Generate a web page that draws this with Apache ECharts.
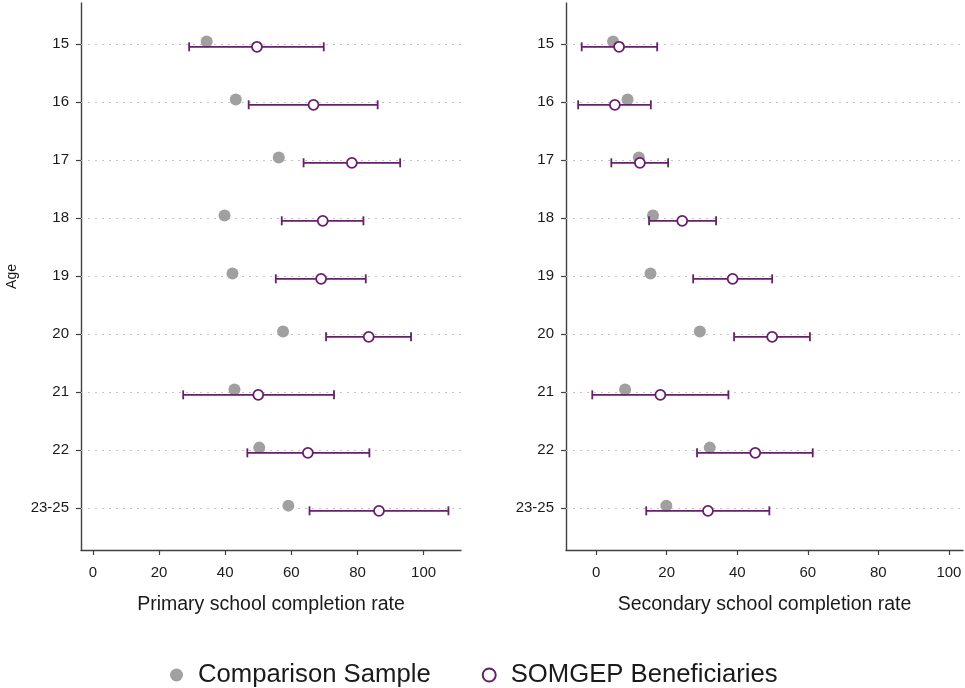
<!DOCTYPE html>
<html>
<head>
<meta charset="utf-8">
<script src="https://cdn.jsdelivr.net/npm/echarts@6/dist/echarts.min.js"></script>
<style>
html,body{margin:0;padding:0;background:#fff;}
#chart{width:965px;height:688px;}
</style>
</head>
<body>
<div id="chart"></div>
<script>
// ---- Data ----
const ages = ['15','16','17','18','19','20','21','22','23-25'];
const xTicks = [0, 20, 40, 60, 80, 100];

// Primary school completion rate
const primComparison = [34.4, 43.2, 56.2, 39.8, 42.2, 57.5, 42.8, 50.3, 59.1];
const primSomgep     = [49.6, 66.7, 78.3, 69.5, 69.0, 83.4, 50.0, 65.0, 86.5];
const primLow        = [29.1, 47.1, 63.7, 57.1, 55.3, 70.5, 27.3, 46.7, 65.5];
const primHigh       = [69.8, 86.1, 92.9, 81.8, 82.5, 96.2, 72.9, 83.6, 107.5];

// Secondary school completion rate
const secComparison = [4.8, 8.9, 12.1, 16.1, 15.4, 29.4, 8.2, 32.2, 19.9];
const secSomgep     = [6.5, 5.3, 12.4, 24.4, 38.7, 49.9, 18.2, 45.1, 31.7];
const secLow        = [-4.1, -5.1, 4.3, 15.0, 27.5, 39.1, -1.1, 28.6, 14.2];
const secHigh       = [17.3, 15.5, 20.4, 34.0, 49.9, 60.6, 37.5, 61.4, 49.1];

// ---- Styling ----
const FONT = "'Liberation Sans', Arial, sans-serif";
const GRAY = '#a0a0a0';
const PURPLE = '#6a1d6e';
const AXIS = '#404040';
const OFF = 0.045;

const chart = echarts.init(document.getElementById('chart'), null, {renderer: 'canvas'});

const catIdx = ages.map((a, i) => i + 1);

function xAxis(gi, min, max, title) {
  return {
    type: 'value', gridIndex: gi, min: min, max: max,
    axisLine: {show: true, onZero: false, lineStyle: {color: AXIS, width: 1.4}},
    axisTick: {show: true, length: 5, customValues: xTicks, lineStyle: {color: AXIS, width: 1.2}},
    axisLabel: {customValues: xTicks, color: '#1a1a1a', fontSize: 15, fontFamily: FONT, margin: 15},
    splitLine: {show: false},
    name: title, nameLocation: 'middle', nameGap: 45,
    nameTextStyle: {color: '#1a1a1a', fontSize: 19.5, fontFamily: FONT}
  };
}
function yAxis(gi, withName) {
  return {
    type: 'value', gridIndex: gi, inverse: true, min: 0.29, max: 9.72,
    axisLine: {show: true, onZero: false, lineStyle: {color: AXIS, width: 1.4}},
    axisTick: {show: true, length: 5, customValues: catIdx, lineStyle: {color: AXIS, width: 1.2}},
    axisLabel: {customValues: catIdx, color: '#1a1a1a', fontSize: 15, fontFamily: FONT, margin: 12,
      formatter: v => ages[Math.round(v) - 1] || ''},
    splitLine: {show: false},
    name: withName ? 'Age' : '', nameLocation: 'middle', nameGap: 62,
    nameTextStyle: {color: '#1a1a1a', fontSize: 14, fontFamily: FONT}
  };
}

function panelSeries(gi, comp, som, lo, hi) {
  return [
    {
      name: 'Comparison Sample', type: 'scatter', xAxisIndex: gi, yAxisIndex: gi,
      symbol: 'circle', symbolSize: 12, itemStyle: {color: GRAY, opacity: 1},
      z: 3,
      data: comp.map((v, i) => [v, i + 1 - OFF]),
      markLine: {
        silent: true, symbol: ['none', 'none'], label: {show: false},
        lineStyle: {color: '#c4c4c4', type: [2, 5], width: 1.2},
        emphasis: {disabled: true},
        data: catIdx.map(c => ({yAxis: c})),
        z: 1
      }
    },
    {
      name: 'SOMGEP Beneficiaries', type: 'custom', xAxisIndex: gi, yAxisIndex: gi,
      z: 4, silent: true,
      data: lo.map((v, i) => [v, hi[i], i + 1 + OFF]),
      renderItem: function (params, api) {
        const a = api.coord([api.value(0), api.value(2)]);
        const b = api.coord([api.value(1), api.value(2)]);
        const h = 4.5;
        const st = {stroke: PURPLE, lineWidth: 1.8, fill: null};
        return {
          type: 'group',
          children: [
            {type: 'line', shape: {x1: a[0], y1: a[1], x2: b[0], y2: b[1]}, style: st},
            {type: 'line', shape: {x1: a[0], y1: a[1] - h, x2: a[0], y2: a[1] + h}, style: st},
            {type: 'line', shape: {x1: b[0], y1: b[1] - h, x2: b[0], y2: b[1] + h}, style: st}
          ]
        };
      }
    },
    {
      name: 'SOMGEP Beneficiaries', type: 'scatter', xAxisIndex: gi, yAxisIndex: gi,
      symbol: 'circle', symbolSize: 10, z: 5,
      itemStyle: {color: '#ffffff', borderColor: PURPLE, borderWidth: 1.8, opacity: 1},
      data: som.map((v, i) => [v, i + 1 + OFF])
    }
  ];
}

const option = {
  backgroundColor: '#ffffff',
  animation: false,
  grid: [
    {left: 81, right: 504, top: 3, bottom: 138},
    {left: 566, right: 2, top: 3, bottom: 138}
  ],
  xAxis: [
    xAxis(0, -3.6, 111.3, 'Primary school completion rate'),
    xAxis(1, -8.55, 104, 'Secondary school completion rate')
  ],
  yAxis: [yAxis(0, true), yAxis(1, false)],
  legend: {
    left: 165, top: 657,
    itemWidth: 33, itemHeight: 13, itemGap: 51,
    textStyle: {color: '#1a1a1a', fontSize: 25.7, fontFamily: FONT},
    data: [
      {name: 'Comparison Sample', icon: 'circle'},
      {name: 'SOMGEP Beneficiaries', icon: 'circle', itemStyle: {color: '#ffffff', borderColor: PURPLE, borderWidth: 2}}
    ]
  },
  series: [].concat(
    panelSeries(0, primComparison, primSomgep, primLow, primHigh),
    panelSeries(1, secComparison, secSomgep, secLow, secHigh)
  )
};
chart.setOption(option);
</script>
</body>
</html>
